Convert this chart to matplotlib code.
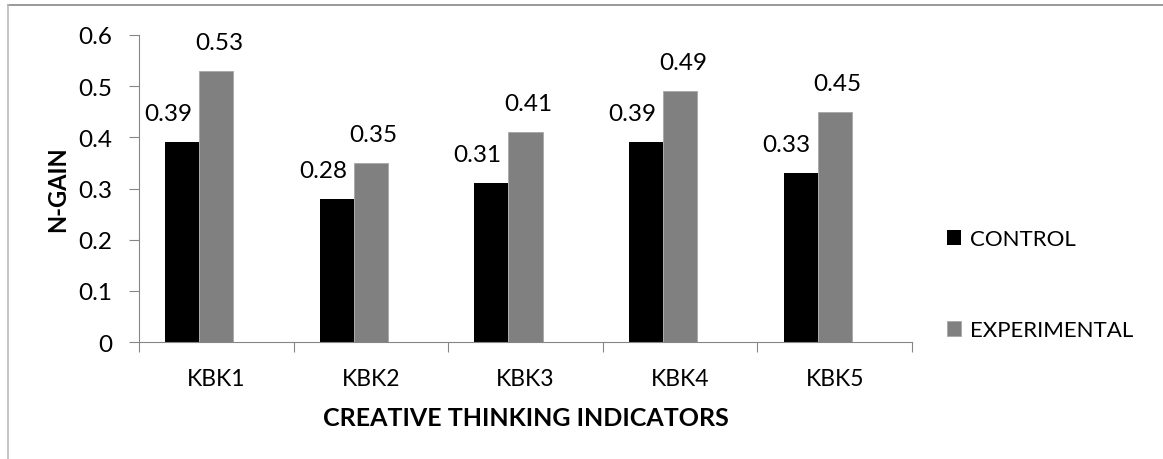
import matplotlib.pyplot as plt
import numpy as np
from matplotlib.lines import Line2D

categories = ["KBK1", "KBK2", "KBK3", "KBK4", "KBK5"]
control = [0.39, 0.28, 0.31, 0.39, 0.33]
experimental = [0.53, 0.35, 0.41, 0.49, 0.45]

plt.rcParams['font.family'] = ['Lato', 'DejaVu Sans']

fig = plt.figure(figsize=(11.63, 4.6), dpi=100)
ax = fig.add_axes([139/1163, 1-343/460, (912-139)/1163, (343-36)/460])

x = np.arange(len(categories))
w = 0.22
b1 = ax.bar(x - w, control, w, color="#000000", label="CONTROL")
b2 = ax.bar(x, experimental, w, color="#808080", label="EXPERIMENTAL",
            edgecolor="#a6a6a6", linewidth=0.6)

# data labels above bars
for xi, v in zip(x - w, control):
    ax.annotate("%.2f" % v, (xi, v), xytext=(-10, 13), textcoords="offset points",
                ha="center", va="bottom", fontsize=17.5)
for xi, v in zip(x, experimental):
    ax.annotate("%.2f" % v, (xi, v), xytext=(2, 13), textcoords="offset points",
                ha="center", va="bottom", fontsize=17.5)

ax.set_xlim(-0.5, len(categories) - 0.5)
ax.set_ylim(0, 0.6)
ax.set_yticks(np.arange(0, 0.61, 0.1))
ax.set_yticklabels(["0", "0.1", "0.2", "0.3", "0.4", "0.5", "0.6"])
ax.set_xticks(x)
ax.set_xticklabels(categories)
ax.set_xticks(np.arange(-0.5, len(categories), 1), minor=True)

for s in ["top", "right"]:
    ax.spines[s].set_visible(False)
for s in ["left", "bottom"]:
    ax.spines[s].set_color("#868686")
ax.tick_params(axis="y", length=7, width=0.8, color="#868686", pad=12, labelsize=17.5)
ax.tick_params(axis="x", which="major", length=0, pad=19, labelsize=16.5)
ax.tick_params(axis="x", which="minor", length=7, width=0.8, color="#868686")

ax.set_ylabel("N-GAIN", fontsize=17, fontweight="bold")
ax.yaxis.set_label_coords(-0.09, 0.5)
ax.set_xlabel("CREATIVE THINKING INDICATORS", fontsize=18, fontweight="bold", labelpad=12)

ax.legend(loc="center left", bbox_to_anchor=(1.019, 0.186), frameon=False, fontsize=16,
          labelspacing=3.2, handlelength=0.65, handleheight=0.65, handletextpad=0.4)

# chart border (top and left only visible)
fig.add_artist(Line2D([8/1163, 1], [1-6/460, 1-6/460], color="#888888", lw=1.2))
fig.add_artist(Line2D([8/1163, 8/1163], [0, 1-6/460], color="#bbbbbb", lw=1.2))

fig.savefig("out.png", dpi=100)
